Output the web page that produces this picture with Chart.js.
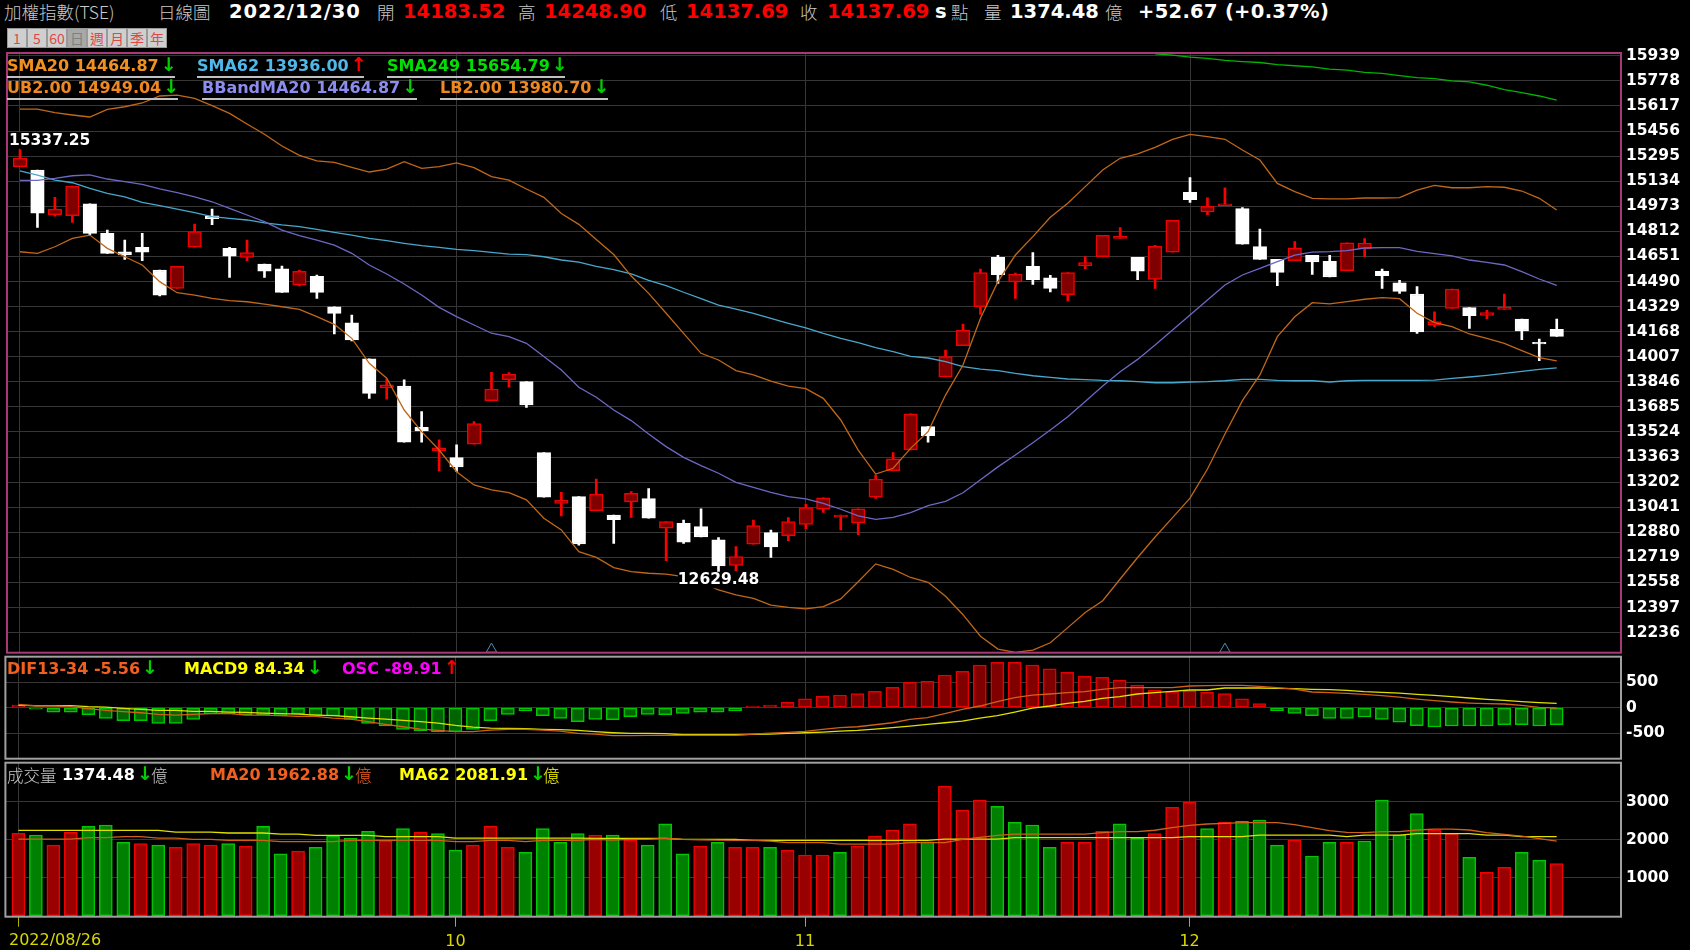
<!DOCTYPE html>
<html>
<head>
<meta charset="utf-8">
<script src="https://cdn.jsdelivr.net/npm/chart.js@4"></script>
<style>
  html, body { margin: 0; padding: 0; background: #000; width: 1690px; height: 950px; overflow: hidden; }
  canvas { position: absolute; left: 0; display: block; }
  .t { position: absolute; white-space: nowrap; font: bold 16px 'DejaVu Sans', sans-serif; line-height: 20px; z-index: 5; }
  .hd { font-size: 19.5px; line-height: 22px; top: 1px; }
  .cjk { font: 300 17.5px 'Noto Sans CJK TC', sans-serif; color: #c8c8c8; line-height: 22px; }
  .u { border-bottom: 2px solid #c0c0c0; height: 20px; }
  .dn, .up { font-size: 19px; margin-left: 2px; line-height: 16px; }
  .dn { color: #00d000; }
  .up { color: #ff0000; }
  #btns { position: absolute; left: 7px; top: 28px; display: flex; z-index: 5; }
  #btns span { width: 18px; height: 18px; border: 1px solid #999; background: #cfcfcf; color: #e04848; font: 14px/18px 'Noto Sans CJK TC', sans-serif; text-align: center; }
  #btns span.on { background: #a8a8a8; color: #808080; }
</style>
</head>
<body>

<div class="t cjk" style="left:4px;top:1px">加權指數(TSE)</div>
<div class="t cjk" style="left:158px;top:1px">日線圖</div>
<div class="t hd" style="left:229px;color:#fff;letter-spacing:.9px">2022/12/30</div>
<div class="t cjk" style="left:377px;top:1px">開</div>
<div class="t hd" style="left:403px;color:#f00">14183.52</div>
<div class="t cjk" style="left:518px;top:1px">高</div>
<div class="t hd" style="left:544px;color:#f00">14248.90</div>
<div class="t cjk" style="left:660px;top:1px">低</div>
<div class="t hd" style="left:686px;color:#f00">14137.69</div>
<div class="t cjk" style="left:800px;top:1px">收</div>
<div class="t hd" style="left:827px;color:#f00">14137.69</div>
<div class="t hd" style="left:935px;color:#fff">s</div>
<div class="t cjk" style="left:951px;top:1px">點</div>
<div class="t cjk" style="left:984px;top:1px">量</div>
<div class="t hd" style="left:1010px;color:#fff">1374.48</div>
<div class="t cjk" style="left:1105px;top:1px">億</div>
<div class="t hd" style="left:1138px;color:#fff;letter-spacing:.3px">+52.67 (+0.37%)</div>

<div id="btns"><span>1</span><span>5</span><span>60</span><span class="on">日</span><span>週</span><span>月</span><span>季</span><span>年</span></div>

<div class="t u" style="left:7px;top:56px;width:168px;color:#f09020">SMA20 14464.87<span class="dn">↓</span></div>
<div class="t u" style="left:197px;top:56px;width:167px;color:#50b8e8">SMA62 13936.00<span class="up">↑</span></div>
<div class="t u" style="left:387px;top:56px;width:178px;color:#00e000">SMA249 15654.79<span class="dn">↓</span></div>
<div class="t u" style="left:7px;top:78px;width:171px;color:#f08820">UB2.00 14949.04<span class="dn">↓</span></div>
<div class="t u" style="left:202px;top:78px;width:215px;color:#8c8cf0">BBandMA20 14464.87<span class="dn">↓</span></div>
<div class="t u" style="left:440px;top:78px;width:168px;color:#f08820">LB2.00 13980.70<span class="dn">↓</span></div>

<div class="t" style="left:7px;top:659px;color:#f06020">DIF13-34 -5.56<span class="dn">↓</span></div>
<div class="t" style="left:184px;top:659px;color:#ffff00">MACD9 84.34<span class="dn">↓</span></div>
<div class="t" style="left:342px;top:659px;color:#ff00ff">OSC -89.91<span class="up">↑</span></div>

<div class="t cjk" style="left:7px;top:764px;font-size:16.5px">成交量</div>
<div class="t" style="left:62px;top:765px;color:#fff">1374.48<span class="dn">↓</span></div>
<div class="t cjk" style="left:151px;top:764px;font-size:16.5px">億</div>
<div class="t" style="left:210px;top:765px;color:#f06020">MA20 1962.88<span class="dn">↓</span></div>
<div class="t cjk" style="left:355px;top:764px;font-size:16.5px;color:#f06020">億</div>
<div class="t" style="left:399px;top:765px;color:#ffff00">MA62 2081.91<span class="dn">↓</span></div>
<div class="t cjk" style="left:543px;top:764px;font-size:16.5px;color:#ffff00">億</div>

<div class="t" style="left:9px;top:930px;font-weight:normal;color:#d8d800">2022/08/26</div>

<canvas id="chart-price" width="1690" height="640" style="top:30px"></canvas>
<canvas id="chart-macd" width="1690" height="140" style="top:636px"></canvas>
<canvas id="chart-vol" width="1690" height="208" style="top:742px"></canvas>

<script>
// ── candles, one entry per trading day from 2022/08/26 to 2022/12/30 ──
const candleOpen = [15227,15206,14919,14912,14989,14799,14680,14709,14564,14446,
  14711,14912,14703,14645,14602,14572,14467,14523,14328,14224,
  13993,13809,13819,13554,13402,13359,13445,13725,13860,13847,
  13391,13066,13109,13019,12991,13075,13096,12906,12938,12916,
  12831,12668,12803,12878,12858,12931,13028,12978,12940,13105,
  13276,13409,13558,13877,14078,14328,14645,14487,14587,14513,
  14406,14592,14650,14767,14645,14504,14679,15062,14936,14977,
  14958,14714,14632,14624,14658,14620,14560,14701,14555,14482,
  14410,14209,14318,14322,14273,14311,14249,14099,14183.52];
const candleClose = [15283,14928,14955,15103,14799,14671,14660,14679,14403,14587,
  14810,14893,14653,14675,14557,14420,14555,14420,14285,14115,
  13772,13826,13458,13530,13423,13299,13578,13800,13896,13697,
  13105,13085,12805,13126,12961,13130,12970,12948,12816,12850,
  12664,12724,12923,12786,12948,13038,13102,12991,13030,13222,
  13351,13640,13500,14008,14176,14547,14534,14538,14502,14446,
  14547,14611,14786,14780,14557,14716,14883,15015,14973,14988,
  14729,14632,14549,14707,14615,14519,14739,14737,14527,14427,
  14166,14232,14442,14271,14290,14326,14172,14089,14137.69];
const candleHigh = [15337.25,15206,15030,15103,14989,14820,14756,14799,14564,14587,
  14859,14955,14709,14756,14602,14589,14564,14532,14328,14275,
  13993,13864,13858,13655,13473,13441,13590,13907,13905,13847,
  13391,13137,13109,13222,12991,13141,13160,12948,12959,13030,
  12846,12788,12959,12895,12974,13060,13102,12991,13030,13248,
  13391,13640,13558,14050,14217,14570,14658,14544,14675,14530,
  14547,14650,14786,14836,14645,14722,14883,15157,15028,15092,
  14964,14827,14632,14746,14658,14658,14739,14765,14570,14497,
  14457,14296,14442,14322,14305,14410,14249,14121,14248.90];
const candleLow = [15227,14838,14910,14870,14790,14671,14632,14624,14397,14446,
  14711,14855,14517,14623,14517,14420,14461,14382,14153,14109,
  13740,13734,13458,13458,13274,13270,13445,13725,13811,13682,
  13105,12985,12798,13019,12809,12976,12970,12698,12809,12850,
  12629.48,12634,12803,12719,12826,12903,13008,12895,12865,13098,
  13276,13409,13458,13877,14078,14279,14478,14382,14472,14423,
  14365,14572,14650,14767,14502,14446,14679,14998,14919,14977,
  14729,14632,14463,14624,14536,14519,14560,14649,14446,14414,
  14157,14198,14318,14189,14251,14311,14117,13982,14137.69];

// ── overlays on the price panel ──
const bandUpper = [15597,15597,15574,15559,15546,15595,15612,15636,15681,15687,
  15666,15619,15569,15501,15435,15360,15300,15265,15255,15223,
  15193,15212,15259,15216,15227,15251,15221,15163,15141,15084,
  15030,14927,14857,14760,14663,14525,14414,14286,14157,14029,
  13986,13918,13890,13851,13819,13802,13740,13601,13408,13254,
  13291,13419,13526,13761,13954,14254,14489,14660,14778,14902,
  14992,15099,15206,15281,15309,15351,15403,15435,15420,15403,
  15334,15270,15120,15067,15024,15020,15020,15026,15026,15028,
  15077,15107,15092,15092,15099,15095,15071,15024,14949.04];
const bandMid = [15139,15139,15152,15169,15174,15148,15131,15114,15084,15060,
  15034,15002,14960,14917,14874,14820,14784,14756,14724,14671,
  14596,14538,14474,14403,14324,14265,14211,14158,14136,14093,
  14008,13922,13811,13747,13665,13597,13511,13430,13361,13308,
  13259,13201,13169,13137,13109,13094,13066,13028,12985,12963,
  12976,13006,13051,13078,13134,13217,13300,13376,13455,13537,
  13622,13719,13819,13911,13990,14082,14179,14275,14371,14468,
  14532,14575,14617,14660,14679,14682,14688,14705,14707,14707,
  14684,14669,14654,14628,14613,14596,14553,14506,14464.87];
const bandLower = [14681,14671,14713,14767,14788,14703,14649,14596,14489,14418,
  14403,14382,14367,14360,14345,14328,14311,14264,14215,14125,
  13965,13869,13665,13526,13408,13269,13184,13152,13135,13088,
  12970,12895,12756,12719,12653,12627,12617,12612,12595,12557,
  12510,12478,12456,12413,12398,12388,12403,12452,12563,12677,
  12642,12590,12559,12469,12351,12213,12130,12109,12123,12171,
  12268,12365,12441,12580,12718,12850,12974,13099,13286,13511,
  13725,13890,14136,14264,14354,14346,14361,14376,14386,14380,
  14286,14226,14200,14153,14125,14093,14046,14001,13980.70];
const sma62 = [15201,15173,15141,15124,15088,15056,15034,14998,14977,14955,
  14932,14906,14895,14885,14867,14853,14842,14825,14805,14788,
  14767,14752,14735,14720,14709,14696,14688,14677,14666,14662,
  14649,14628,14615,14587,14566,14539,14497,14463,14421,14380,
  14339,14312,14286,14254,14222,14192,14157,14125,14098,14065,
  14040,14010,13999,13975,13943,13928,13918,13900,13885,13875,
  13864,13860,13855,13853,13847,13840,13840,13845,13847,13853,
  13862,13862,13855,13853,13853,13845,13853,13855,13855,13855,
  13855,13857,13868,13877,13888,13900,13913,13926,13936];
// above the top of the panel until day 65
const sma249 = [...Array(65).fill(null),
  15951,15944,15930,15923,15909,15902,15896,15882,15875,15868,15854,15847,
  15833,15826,15812,15799,15792,15778,15771,15750,15722,15702,15681,15654.79];

const markerDays = [27, 69];
const markerVals = [12130, 12130];
const extremeDays = [0, 40];
const extremeVals = [15337.25, 12629.48];

// ── MACD panel ──
const macdDif = [65,33,33,20,-20,-52,-78,-98,-130,-143,
  -130,-117,-111,-143,-143,-156,-169,-169,-202,-221,
  -273,-325,-371,-416,-442,-468,-468,-436,-423,-423,
  -436,-455,-501,-514,-546,-546,-540,-540,-540,-540,
  -540,-540,-514,-494,-481,-462,-423,-390,-371,-332,
  -293,-228,-195,-117,-33,33,117,195,247,267,
  293,312,358,390,390,390,390,423,429,436,
  436,416,390,364,306,293,280,260,234,208,
  169,137,111,91,78,72,46,7,-5.56];
const macdSignal = [46,39,39,39,20,13,-13,-33,-52,-52,
  -72,-72,-85,-91,-104,-117,-124,-143,-156,-176,
  -202,-221,-247,-273,-299,-345,-377,-397,-403,-410,
  -423,-429,-442,-468,-488,-501,-501,-507,-527,-527,
  -527,-527,-520,-514,-501,-488,-475,-455,-442,-416,
  -390,-358,-325,-293,-260,-202,-156,-85,-7,33,
  85,124,182,215,267,293,319,345,345,384,
  384,384,377,371,358,351,338,312,299,286,
  260,241,215,189,163,143,117,98,84.34];
const macdOsc = [52,-30,-85,-85,-136,-208,-253,-253,-305,-305,
  -227,-123,-123,-143,-143,-162,-123,-150,-162,-227,
  -305,-357,-422,-448,-474,-468,-422,-253,-130,-65,
  -156,-208,-273,-227,-234,-175,-130,-136,-110,-85,
  -85,-65,32,52,104,175,221,247,273,318,
  396,494,513,637,708,832,884,884,832,760,
  689,611,591,539,442,344,312,331,299,273,
  175,78,-58,-110,-156,-208,-208,-182,-227,-280,
  -351,-377,-357,-357,-357,-331,-331,-357,-331];

// ── volume panel ──
const volume = [2168,2124,1860,2194,2352,2387,1931,1896,1860,1799,
  1896,1860,1896,1834,2352,1632,1702,1799,2098,2036,
  2220,1966,2291,2194,2159,1729,1860,2352,1799,1667,
  2291,1931,2159,2124,2124,1992,1860,2422,1632,1834,
  1931,1799,1799,1799,1729,1597,1597,1667,1834,2098,
  2256,2422,1948,3415,2782,3046,2879,2457,2387,1799,
  1931,1931,2220,2422,2036,2159,2853,2984,2291,2457,
  2484,2519,1860,1992,1571,1931,1931,1966,3046,2124,
  2686,2256,2159,1536,1140,1272,1667,1465,1374.48];
// r = red bar, g = green bar
const volumeSide = 'rgrrgggrgr' + 'rrgrggrggg' + 'grgrggrrrg' + 'gggrgrgggr' + 'grrgrrrgrr' +
  'rrgrrrgggg' + 'rrrggrrrgr' + 'gggrggrggg' + 'grrgrrggr';
const volMa20 = [2018,2018,2018,2018,2054,2054,2080,2080,2045,2045,
  2010,2010,1983,1983,1983,1948,1948,1948,1948,1983,
  1983,1983,1983,1983,1983,1948,1948,1983,1983,1948,
  1983,1983,1983,2010,1990,2010,2010,2036,2010,2000,
  1990,1983,1983,1966,1922,1922,1922,1887,1887,1887,
  1887,1922,1922,1922,2010,2060,2115,2150,2150,2150,
  2150,2150,2190,2212,2212,2250,2320,2380,2414,2431,
  2449,2449,2449,2396,2317,2238,2194,2185,2212,2212,
  2256,2282,2282,2256,2185,2141,2097,2027,1962.88];
const volMa62 = [2247,2247,2247,2247,2247,2247,2247,2247,2247,2203,
  2203,2203,2177,2177,2177,2150,2150,2115,2115,2115,
  2115,2080,2080,2080,2080,2045,2045,2045,2045,2045,
  2045,2045,2045,2036,2036,2036,2036,2036,2010,2010,
  2010,2010,1983,1983,1983,1983,1983,1983,1983,1983,
  1983,1983,1983,2018,2018,2018,2018,2054,2054,2054,
  2054,2054,2054,2054,2054,2054,2054,2080,2080,2080,
  2080,2124,2124,2124,2124,2124,2080,2124,2124,2124,
  2159,2159,2159,2159,2124,2124,2081,2081,2081.91];

// ── axis ticks ──
const priceTicks = [15939,15778,15617,15456,15295,15134,14973,14812,14651,14490,14329,14168,
  14007,13846,13685,13524,13363,13202,13041,12880,12719,12558,12397,12236];
const macdTicks = [500, 0, -500];
const volTicks = [3000, 2000, 1000];
const monthTicks = [0, 25, 45, 67];
const monthLabels = ['', '10', '11', '12'];

const TICK_FONT = { family: 'DejaVu Sans', size: 15.5, weight: 'bold' };
const GRID = '#363636';

const pts = arr => arr.map((y, i) => ({ x: i, y }));

function xAxis(extra) {
  return {
    type: 'linear', min: -0.744, max: 91.68, offset: false,
    afterBuildTicks: s => { s.ticks = monthTicks.map(value => ({ value })); },
    afterFit: s => { s.height = 0; },
    grid: { color: GRID, offset: false, drawTicks: false },
    border: { display: false },
    ticks: { display: false, autoSkip: false, maxRotation: 0 },
    ...extra
  };
}

function yAxis(ticks, min, max) {
  return {
    position: 'right', min, max,
    afterBuildTicks: s => { s.ticks = ticks.map(value => ({ value })); },
    afterFit: s => { s.width = 69; },
    grid: { color: GRID, drawTicks: false },
    border: { display: false },
    ticks: { color: '#fff', font: TICK_FONT, padding: 5, autoSkip: false, callback: v => v }
  };
}

function lineSet(data, color, width) {
  return { type: 'line', data: pts(data), borderColor: color, borderWidth: width || 1.3, pointRadius: 0, tension: 0, order: 1 };
}

// frame around the plot area
const panelBorder = {
  id: 'panelBorder',
  afterDraw(c, args, opts) {
    const a = c.chartArea;
    c.ctx.save();
    c.ctx.strokeStyle = opts.color;
    c.ctx.lineWidth = 2;
    c.ctx.strokeRect(a.left, a.top, a.right - a.left, a.bottom - a.top);
    c.ctx.restore();
  }
};

// highest and lowest close labels
const extremeLabels = {
  id: 'extremeLabels',
  afterDatasetsDraw(c) {
    const ctx = c.ctx;
    ctx.save();
    ctx.font = 'bold 15.5px "DejaVu Sans"';
    ctx.textBaseline = 'middle';
    extremeDays.forEach((d, i) => {
      const text = extremeVals[i].toFixed(2);
      const w = ctx.measureText(text).width;
      const x = Math.max(c.scales.x.getPixelForValue(d) - w / 2, 9);
      const y = c.scales.y.getPixelForValue(extremeVals[i]) + (i === 0 ? -9 : 9);
      ctx.fillStyle = '#000';
      ctx.fillRect(x, y - 8, w, 16);
      ctx.fillStyle = '#fff';
      ctx.fillText(text, x, y);
    });
    ctx.restore();
  }
};

function baseOptions(padding, x, y, borderColor) {
  return {
    responsive: false, animation: false, events: [],
    layout: { padding: { left: 5.4, right: 0, ...padding } },
    plugins: { legend: { display: false }, tooltip: { enabled: false }, panelBorder: { color: borderColor } },
    scales: { x, y }
  };
}

const isUp = candleClose.map((c, i) => c >= candleOpen[i]);
const charts = {};

charts.price = new Chart(document.getElementById('chart-price').getContext('2d'), {
  type: 'bar',
  data: {
    datasets: [
      {
        data: candleLow.map((l, i) => ({ x: i, y: [l, candleHigh[i]] })),
        backgroundColor: isUp.map(u => u ? '#ff0000' : '#ffffff'),
        barThickness: 2, grouped: false, borderWidth: 0, order: 5
      },
      {
        data: candleOpen.map((o, i) => ({ x: i, y: [o, candleClose[i]] })),
        backgroundColor: isUp.map(u => u ? '#800000' : '#ffffff'),
        borderColor: isUp.map(u => u ? '#f00000' : '#ffffff'),
        borderWidth: 1.5, borderSkipped: false, barThickness: 13.5, grouped: false, order: 4
      },
      lineSet(bandUpper, '#c06818'),
      lineSet(bandLower, '#c06818'),
      lineSet(bandMid, '#6c68c4'),
      lineSet(sma62, '#48a8cc'),
      lineSet(sma249, '#00b400'),
      {
        type: 'line', data: markerDays.map((d, i) => ({ x: d, y: markerVals[i] })), showLine: false,
        pointStyle: 'triangle', pointRadius: 6, pointBorderColor: '#4a90b8', pointBackgroundColor: 'transparent',
        pointBorderWidth: 1, order: 1
      }
    ]
  },
  options: baseOptions({ top: 23, bottom: 17.3 }, xAxis(), yAxis(priceTicks, 12107, 15957), '#a83878'),
  plugins: [panelBorder, extremeLabels]
});

charts.macd = new Chart(document.getElementById('chart-macd').getContext('2d'), {
  type: 'bar',
  data: {
    datasets: [
      {
        data: pts(macdOsc),
        backgroundColor: macdOsc.map(v => v >= 0 ? '#800000' : '#006400'),
        borderColor: macdOsc.map(v => v >= 0 ? '#e80000' : '#00c800'),
        borderWidth: 1.5, borderSkipped: false, barThickness: 13, grouped: false, order: 4
      },
      lineSet(macdDif, '#d06018'),
      lineSet(macdSignal, '#e0e000')
    ]
  },
  options: baseOptions({ top: 20.7, bottom: 17.3 }, xAxis(), yAxis(macdTicks, -994, 994), '#a0a0a0'),
  plugins: [panelBorder]
});

charts.vol = new Chart(document.getElementById('chart-vol').getContext('2d'), {
  type: 'bar',
  data: {
    datasets: [
      {
        data: pts(volume),
        backgroundColor: volume.map((v, i) => volumeSide[i] === 'r' ? '#990000' : '#008000'),
        borderColor: volume.map((v, i) => volumeSide[i] === 'r' ? '#f00000' : '#00c800'),
        borderWidth: 1.5, borderSkipped: false, barThickness: 13, grouped: false, order: 4
      },
      lineSet(volMa20, '#d06018'),
      lineSet(volMa62, '#e0e000')
    ]
  },
  options: baseOptions({ top: 20.7, bottom: 0 },
    xAxis({
      afterFit: s => { s.height = 33.3; },
      grid: { color: GRID, offset: false, drawTicks: true, tickColor: '#b0b000', tickLength: 10 },
      ticks: {
        display: true, autoSkip: false, maxRotation: 0, color: '#d8d800', padding: 6,
        font: { family: 'DejaVu Sans', size: 16 },
        callback: v => monthLabels[monthTicks.indexOf(v)]
      }
    }),
    yAxis(volTicks, -27, 4029), '#a0a0a0'),
  plugins: [panelBorder]
});
</script>
</body>
</html>
